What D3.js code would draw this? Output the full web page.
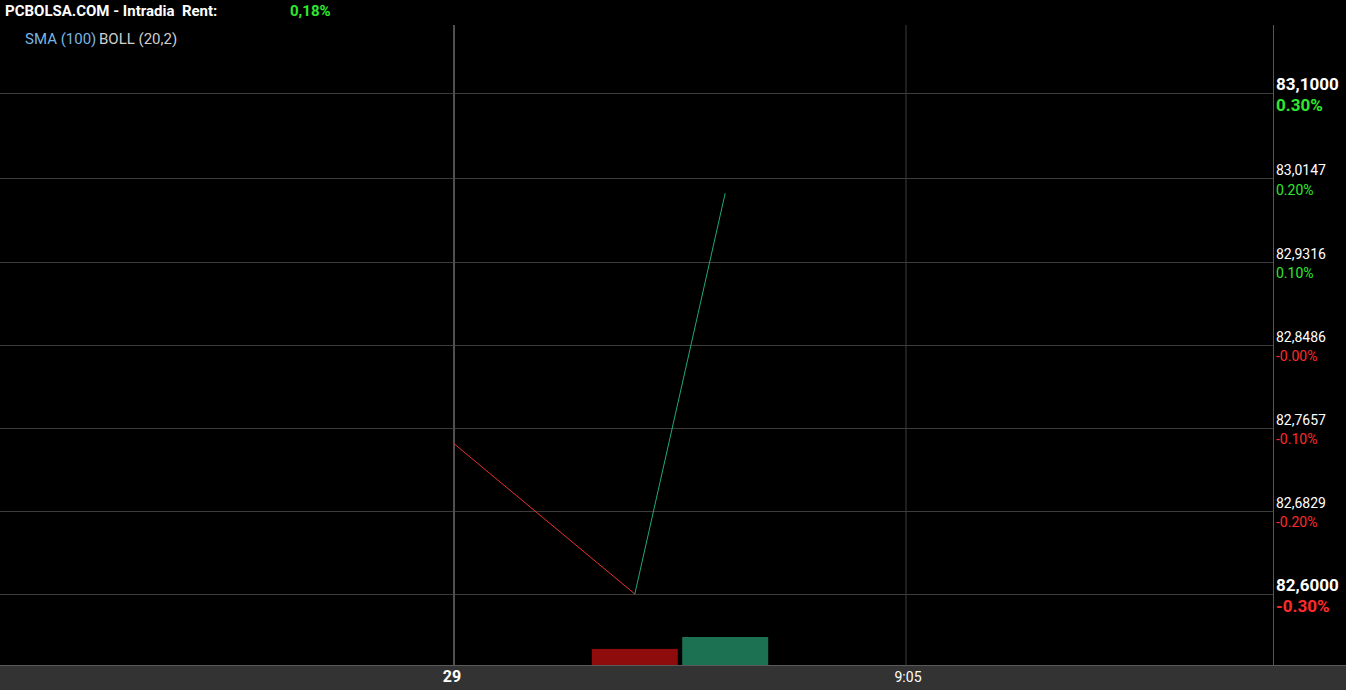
<!doctype html>
<html>
<head>
<meta charset="utf-8">
<script src="https://cdnjs.cloudflare.com/ajax/libs/d3/7.8.5/d3.min.js"></script>
<style>
  body { margin: 0; background: #000; overflow: hidden; }
  svg { display: block; font-family: Roboto, "Open Sans", sans-serif; }
</style>
</head>
<body>
<div id="chart"></div>
<script>
var w = 1346;
var h = 690;
var plotTop = 25, plotRight = 1273, plotBottom = 665;

// intraday data
var times = ["09:00", "09:02", "09:03"];
var prices = [82.75, 82.60, 83.00];
var volumes = [0, 1150, 2000];

var prevClose = 82.8486;
var priceTicks = [83.1000, 83.0147, 82.9316, 82.8486, 82.7657, 82.6829, 82.6000];
var pctLabels = ["0.30%", "0.20%", "0.10%", "-0.00%", "-0.10%", "-0.20%", "-0.30%"];
var timeTicks = ["09:00", "09:05"];
var timeLabels = ["29", "9:05"];
var rent = "0,18%";

var parseT = d3.timeParse("%Y-%m-%d %H:%M");
function t(s) { return parseT("2024-01-29 " + s); }

var xScale = d3.scaleTime()
    .domain([t("08:55"), t("09:10")])
    .range([2, 2 + 15 * 90.4]);

var yScale = d3.scaleLinear()
    .domain([82.6, 83.1])
    .range([594, 93]);

var volScale = d3.scaleLinear()
    .domain([0, 12000])
    .range([plotBottom, plotBottom - 168]);

var svg = d3.select("#chart").append("svg")
    .attr("width", w)
    .attr("height", h);

svg.append("rect").attr("width", w).attr("height", h).attr("fill", "#000");

// horizontal grid
svg.append("g").selectAll("line")
    .data(priceTicks)
    .enter().append("line")
    .attr("x1", 0).attr("x2", plotRight)
    .attr("y1", function (d) { return Math.round(yScale(d)) + 0.5; })
    .attr("y2", function (d) { return Math.round(yScale(d)) + 0.5; })
    .attr("stroke", "#3c3c3c");

// vertical grid (day separator is brighter)
svg.append("g").selectAll("line")
    .data(timeTicks)
    .enter().append("line")
    .attr("x1", function (d) { return Math.round(xScale(t(d))); })
    .attr("x2", function (d) { return Math.round(xScale(t(d))); })
    .attr("y1", plotTop).attr("y2", plotBottom)
    .attr("stroke", function (d, i) { return i == 0 ? "#505050" : "#3c3c3c"; })
    .attr("stroke-width", function (d, i) { return i == 0 ? 2 : 1; });

// volume bars
svg.append("g").selectAll("rect")
    .data(volumes)
    .enter().append("rect")
    .attr("x", function (d, i) { return xScale(t(times[i])) - 43; })
    .attr("width", 86)
    .attr("y", function (d) { return volScale(d); })
    .attr("height", function (d) { return plotBottom - volScale(d); })
    .attr("fill", function (d, i) {
        return i > 0 && prices[i] < prices[i - 1] ? "#8e0c0c" : "#1b7151";
    });

// price line, coloured per segment
var pts = times.map(function (d, i) { return [xScale(t(d)), yScale(prices[i])]; });
svg.append("g").selectAll("line")
    .data(d3.pairs(pts))
    .enter().append("line")
    .attr("x1", function (d) { return d[0][0]; })
    .attr("y1", function (d) { return d[0][1]; })
    .attr("x2", function (d) { return d[1][0]; })
    .attr("y2", function (d) { return d[1][1]; })
    .attr("stroke", function (d) { return d[1][1] > d[0][1] ? "#e8322f" : "#1fa878"; })
    .attr("stroke-width", 1);

// right axis line
svg.append("line")
    .attr("x1", plotRight + 0.5).attr("x2", plotRight + 0.5)
    .attr("y1", plotTop).attr("y2", plotBottom)
    .attr("stroke", "#555");

// price labels
function big(i) { return i == 0 || i == priceTicks.length - 1; }

var lab = svg.append("g").selectAll("g")
    .data(priceTicks)
    .enter().append("g")
    .attr("transform", function (d) { return "translate(1276," + yScale(d) + ")"; });

lab.append("text")
    .attr("y", -3)
    .attr("fill", "#fff")
    .style("font-size", function (d, i) { return big(i) ? "17px" : "14px"; })
    .style("font-weight", function (d, i) { return big(i) ? "bold" : "normal"; })
    .text(function (d) { return d.toFixed(4).replace(".", ","); });

lab.append("text")
    .attr("y", function (d, i) { return big(i) ? 17.5 : 16.5; })
    .attr("fill", function (d) { return d > prevClose ? "#2ee82e" : "#ff2a2a"; })
    .style("font-size", function (d, i) { return big(i) ? "17px" : "14px"; })
    .style("font-weight", function (d, i) { return big(i) ? "bold" : "normal"; })
    .text(function (d, i) { return pctLabels[i]; });

// time axis band
svg.append("rect")
    .attr("x", 0).attr("y", plotBottom)
    .attr("width", w).attr("height", h - plotBottom)
    .attr("fill", "#333");
svg.append("line")
    .attr("x1", 0).attr("x2", w)
    .attr("y1", plotBottom + 0.5).attr("y2", plotBottom + 0.5)
    .attr("stroke", "#5a5a5a");

svg.append("g").selectAll("text")
    .data(timeTicks)
    .enter().append("text")
    .attr("x", function (d, i) { return xScale(t(d)) + (i == 0 ? -2 : 2); })
    .attr("y", 682)
    .attr("text-anchor", "middle")
    .attr("fill", "#fff")
    .style("font-size", function (d, i) { return i == 0 ? "16px" : "14px"; })
    .style("font-weight", function (d, i) { return i == 0 ? "bold" : "normal"; })
    .text(function (d, i) { return timeLabels[i]; });

// header
svg.append("text")
    .attr("x", 5).attr("y", 16)
    .attr("fill", "#fff")
    .attr("xml:space", "preserve")
    .style("font-size", "15px").style("font-weight", "bold")
    .text("PCBOLSA.COM - Intradia  Rent:");
svg.append("text")
    .attr("x", 290).attr("y", 16)
    .attr("fill", "#2ee82e")
    .style("font-size", "15px").style("font-weight", "bold")
    .text(rent);

svg.append("text")
    .attr("x", 25).attr("y", 44)
    .attr("fill", "#7ab6e2")
    .style("font-size", "15px")
    .text("SMA (100)");
svg.append("text")
    .attr("x", 99).attr("y", 44)
    .attr("fill", "#cfcfcf")
    .style("font-size", "15px")
    .text("BOLL (20,2)");
</script>
</body>
</html>
